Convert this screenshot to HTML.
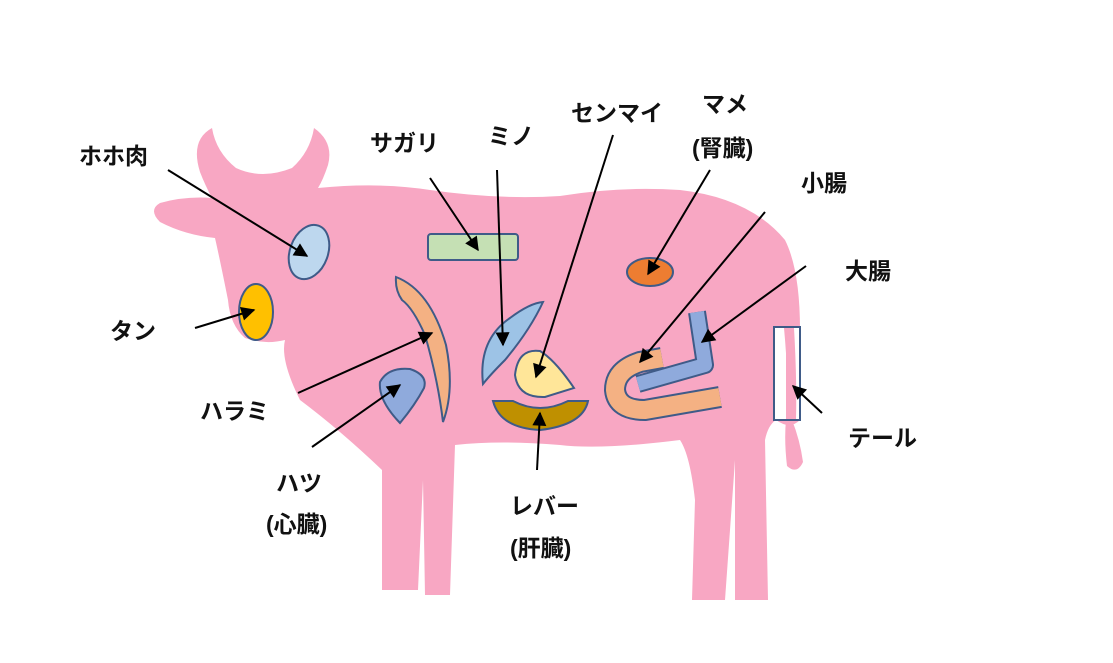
<!DOCTYPE html>
<html><head><meta charset="utf-8"><style>
html,body{margin:0;padding:0;background:#fff;}
svg{display:block}
text{font-family:"Liberation Sans","Noto Sans CJK JP",sans-serif;font-weight:bold;fill:#111;font-size:23px}
</style></head><body>
<svg width="1113" height="663" viewBox="0 0 1113 663" xmlns="http://www.w3.org/2000/svg">
<defs>
<marker id="b" viewBox="0 0 10 10" markerWidth="16" markerHeight="14" refX="9" refY="5" orient="auto" markerUnits="userSpaceOnUse"><path d="M0,0 L10,5 L0,10 Z" fill="#000"/></marker></defs>
<g fill="#f8a7c3">
<path d="M200,172 Q190,140 212,128 Q216,152 236,168 Q262,180 292,168 Q310,152 314,128 Q334,142 328,165 Q323,180 318,188 Q380,182 430,190 Q500,200 560,196 Q620,186 680,190 Q750,198 785,240 Q800,270 800,330 L800,420 Q790,430 776,420 Q768,425 765,440 L768,600 L735,600 L735,460 L725,600 L692,600 L695,500 Q690,455 680,440 Q600,450 560,445 Q500,440 455,445 L450,595 L425,595 L423,480 L418,590 L382,590 L382,470 Q340,430 300,400 Q280,360 285,340 Q265,345 245,338 Q230,325 228,300 Q220,260 215,238 Q185,235 160,222 Q148,210 160,203 Q185,196 212,198 Q205,185 200,172 Z"/>
</g>
<g stroke="#3f5b88" stroke-width="2">
<rect x="774" y="327" width="26" height="93" fill="#fff"/>
</g>
<path d="M786,328 Q792,380 792,420 Q800,440 803,462 Q797,475 787,466 Q784,440 786,420 Z" fill="#f8a7c3"/>
<path d="M784,328 L794,328 Q797,380 796,419 L788,419 Q788,370 784,328Z" fill="#f8a7c3"/>
<g stroke="#3f5b88" stroke-width="2">
<rect x="774" y="327" width="26" height="93" fill="none"/>
<ellipse cx="309" cy="252" rx="19" ry="28" transform="rotate(20 309 252)" fill="#bdd7ee"/>
<ellipse cx="256" cy="312" rx="17" ry="28" fill="#ffc000"/>
<rect x="428" y="234" width="90" height="26" rx="3" fill="#c5e0b4"/>
<ellipse cx="650" cy="272" rx="23" ry="14" fill="#ed7d31"/>
<path d="M396,277 Q430,290 446,345 Q455,390 443,422 Q438,380 425,335 Q413,308 402,300 Q395,290 396,277Z" fill="#f4b183"/>
<path d="M400,423 Q378,400 380,382 Q388,367 410,369 Q428,375 424,388 Q415,405 400,423Z" fill="#8faadc"/>
<path d="M483,384 Q478,340 510,318 Q530,303 543,302 Q530,330 505,360 Q490,375 483,384Z" fill="#9dc3e6"/>
<path d="M574,388 Q555,360 540,351 Q518,348 515,375 Q518,398 545,397 Z" fill="#ffe699"/>
<path d="M493,401 L513,401 Q540,415 568,401 L588,401 Q583,425 540,430 Q500,428 493,401Z" fill="#bf9000"/>
</g>
<g fill="none" stroke-linejoin="round">
<path d="M662,358 L640,362 Q615,370 615,390 Q617,410 645,410 L720,397" stroke="#3f5b88" stroke-width="22"/>
<path d="M662,358 L640,362 Q615,370 615,390 Q617,410 645,410 L720,397" stroke="#f4b183" stroke-width="18"/>
<path d="M697,312 L705,365 L638,384" stroke="#3f5b88" stroke-width="18"/>
<path d="M697,312 L705,365 L638,384" stroke="#8faadc" stroke-width="14"/>
</g>
<g stroke="#000" stroke-width="2" marker-end="url(#b)">
<line x1="168" y1="170" x2="307" y2="256"/>
<line x1="430" y1="178" x2="478" y2="250"/>
<line x1="497" y1="170" x2="503" y2="345"/>
<line x1="613" y1="135" x2="536" y2="377"/>
<line x1="710" y1="170" x2="648" y2="274"/>
<line x1="765" y1="212" x2="640" y2="362"/>
<line x1="806" y1="266" x2="702" y2="342"/>
<line x1="195" y1="328" x2="254" y2="310"/>
<line x1="298" y1="393" x2="432" y2="333"/>
<line x1="312" y1="447" x2="400" y2="385"/>
<line x1="537" y1="470" x2="540" y2="413"/>
<line x1="822" y1="413" x2="793" y2="386"/>
</g>
<text x="79" y="164">ホホ肉</text>
<text x="370" y="151">サガリ</text>
<text x="488" y="144">ミノ</text>
<text x="571" y="121">センマイ</text>
<text x="702" y="112">マメ</text>
<text x="692" y="156">(腎臓)</text>
<text x="801" y="191">小腸</text>
<text x="845" y="279">大腸</text>
<text x="110" y="339">タン</text>
<text x="200" y="419">ハラミ</text>
<text x="276" y="491">ハツ</text>
<text x="266" y="532">(心臓)</text>
<text x="510" y="514">レバー</text>
<text x="510" y="556">(肝臓)</text>
<text x="848" y="446">テール</text>
</svg>
</body></html>
